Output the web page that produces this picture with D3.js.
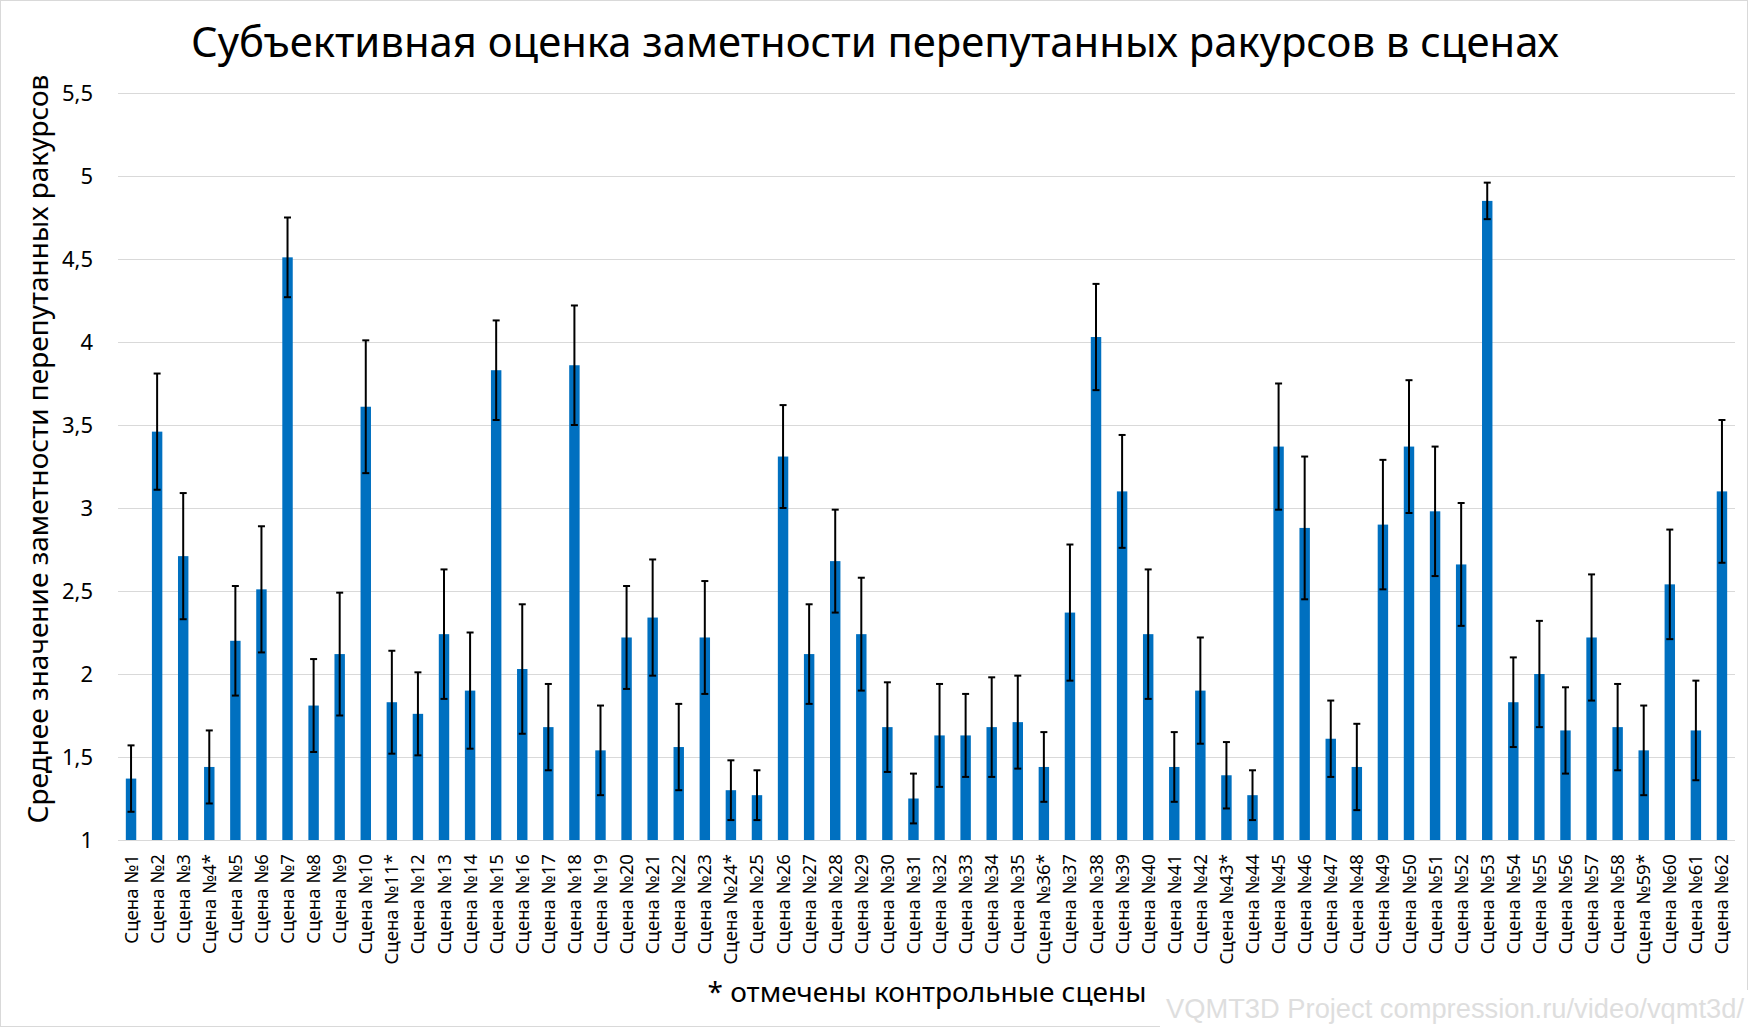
<!DOCTYPE html>
<meta charset="utf-8">
<script src="https://cdn.jsdelivr.net/npm/d3@7"></script>
<style>
body { margin: 0; background: #fff; }
text { font-family: "Noto Sans", sans-serif; fill: #000; }
.axis path { display: none; }
.axis line { display: none; }
.grid line { stroke: #d9d9d9; stroke-width: 1; shape-rendering: crispEdges; }
.bar { fill: #0070c0; }
.err { stroke: #000; stroke-width: 2; fill: none; }
</style>
<body>
<script>

// scene names (* = control scenes)
var scenes = ["Сцена №1","Сцена №2","Сцена №3","Сцена №4*","Сцена №5","Сцена №6","Сцена №7","Сцена №8","Сцена №9","Сцена №10",
  "Сцена №11*","Сцена №12","Сцена №13","Сцена №14","Сцена №15","Сцена №16","Сцена №17","Сцена №18","Сцена №19","Сцена №20",
  "Сцена №21","Сцена №22","Сцена №23","Сцена №24*","Сцена №25","Сцена №26","Сцена №27","Сцена №28","Сцена №29","Сцена №30",
  "Сцена №31","Сцена №32","Сцена №33","Сцена №34","Сцена №35","Сцена №36*","Сцена №37","Сцена №38","Сцена №39","Сцена №40",
  "Сцена №41","Сцена №42","Сцена №43*","Сцена №44","Сцена №45","Сцена №46","Сцена №47","Сцена №48","Сцена №49","Сцена №50",
  "Сцена №51","Сцена №52","Сцена №53","Сцена №54","Сцена №55","Сцена №56","Сцена №57","Сцена №58","Сцена №59*","Сцена №60",
  "Сцена №61","Сцена №62"];

// mean scores
var means = [1.37,3.46,2.71,1.44,2.20,2.51,4.51,1.81,2.12,3.61,
  1.83,1.76,2.24,1.90,3.83,2.03,1.68,3.86,1.54,2.22,
  2.34,1.56,2.22,1.30,1.27,3.31,2.12,2.68,2.24,1.68,
  1.25,1.63,1.63,1.68,1.71,1.44,2.37,4.03,3.10,2.24,
  1.44,1.90,1.39,1.27,3.37,2.88,1.61,1.44,2.90,3.37,
  2.98,2.66,4.85,1.83,2.00,1.66,2.22,1.68,1.54,2.54,
  1.66,3.10];

// error bar half-widths
var errors = [0.20,0.35,0.38,0.22,0.33,0.38,0.24,0.28,0.37,0.40,
  0.31,0.25,0.39,0.35,0.30,0.39,0.26,0.36,0.27,0.31,
  0.35,0.26,0.34,0.18,0.15,0.31,0.30,0.31,0.34,0.27,
  0.15,0.31,0.25,0.30,0.28,0.21,0.41,0.32,0.34,0.39,
  0.21,0.32,0.20,0.15,0.38,0.43,0.23,0.26,0.39,0.40,
  0.39,0.37,0.11,0.27,0.32,0.26,0.38,0.26,0.27,0.33,
  0.30,0.43];

var yTicks = [1, 1.5, 2, 2.5, 3, 3.5, 4, 4.5, 5, 5.5];

var W = 1750, H = 1028,
    margin = {top: 93, right: 15, bottom: 188, left: 118},
    width = W - margin.left - margin.right,
    height = H - margin.top - margin.bottom;

var data = scenes.map(function(s, i) { return {name: s, v: means[i], e: errors[i]}; });

var svg = d3.select("body").append("svg")
  .attr("width", W)
  .attr("height", H);

// chart border
svg.append("rect")
  .attr("x", 0.5).attr("y", 0.5)
  .attr("width", W - 3).attr("height", H - 2)
  .attr("fill", "none")
  .attr("stroke", "#d9d9d9");

var g = svg.append("g")
  .attr("transform", "translate(" + margin.left + "," + margin.top + ")");

var x = d3.scaleBand()
  .domain(scenes)
  .range([0, width])
  .paddingInner(0.6)
  .paddingOuter(0.3);

var y = d3.scaleLinear()
  .domain([1, 5.5])
  .range([height, 0]);

// gridlines
g.append("g")
  .attr("class", "grid")
  .selectAll("line")
  .data(yTicks)
  .enter().append("line")
  .attr("x1", 0)
  .attr("x2", width)
  .attr("y1", function(d) { return Math.round(y(d)) + 0.5; })
  .attr("y2", function(d) { return Math.round(y(d)) + 0.5; });

// y axis
var fmt = function(d) { return String(d).replace(".", ","); };
g.append("g")
  .attr("class", "y axis")
  .call(d3.axisLeft(y).tickValues(yTicks).tickFormat(fmt).tickSize(0).tickPadding(25))
  .selectAll("text")
  .attr("font-size", "22px")
  .style("font-family", "'Noto Sans', sans-serif");

// bars
g.selectAll(".bar")
  .data(data)
  .enter().append("rect")
  .attr("class", "bar")
  .attr("x", function(d) { return x(d.name); })
  .attr("width", x.bandwidth())
  .attr("y", function(d) { return y(d.v); })
  .attr("height", function(d) { return height - y(d.v); });

// error bars
var eb = g.selectAll(".eb")
  .data(data)
  .enter().append("g")
  .attr("class", "err")
  .attr("transform", function(d) { return "translate(" + (x(d.name) + x.bandwidth() / 2) + ",0)"; });

eb.append("line")
  .attr("y1", function(d) { return y(d.v + d.e); })
  .attr("y2", function(d) { return y(d.v - d.e); });
eb.append("line")
  .attr("x1", -3.5).attr("x2", 3.5)
  .attr("y1", function(d) { return y(d.v + d.e); })
  .attr("y2", function(d) { return y(d.v + d.e); });
eb.append("line")
  .attr("x1", -3.5).attr("x2", 3.5)
  .attr("y1", function(d) { return y(d.v - d.e); })
  .attr("y2", function(d) { return y(d.v - d.e); });

// x axis labels
g.append("g")
  .attr("class", "x axis")
  .attr("transform", "translate(0," + height + ")")
  .call(d3.axisBottom(x).tickSize(0))
  .selectAll("text")
  .attr("font-size", "18.6px")
  .style("font-family", "'Noto Sans', sans-serif")
  .style("text-anchor", "end")
  .attr("transform", "rotate(-90)")
  .attr("x", -14)
  .attr("y", 0)
  .attr("dx", 0)
  .attr("dy", "0.35em");

// title
svg.append("text")
  .attr("x", 875)
  .attr("y", 57)
  .attr("text-anchor", "middle")
  .attr("font-size", "41.8px")
  .text("Субъективная оценка заметности перепутанных ракурсов в сценах");

// y axis title
svg.append("text")
  .attr("transform", "translate(48," + 449 + ") rotate(-90)")
  .attr("text-anchor", "middle")
  .attr("font-size", "28px")
  .text("Среднее значение заметности перепутанных ракурсов");

// footnote
svg.append("text")
  .attr("x", 927)
  .attr("y", 1002)
  .attr("text-anchor", "middle")
  .attr("font-size", "28px")
  .text("* отмечены контрольные сцены");

// watermark
svg.append("rect")
  .attr("x", 1160).attr("y", 990)
  .attr("width", 590).attr("height", 38)
  .attr("fill", "#fff");
svg.append("text")
  .attr("x", 1744)
  .attr("y", 1018)
  .attr("text-anchor", "end")
  .attr("font-size", "27.3px")
  .style("font-family", "'Liberation Sans', Arial, sans-serif")
  .style("fill", "#dedede")
  .text("VQMT3D Project compression.ru/video/vqmt3d/");

</script>
</body>
